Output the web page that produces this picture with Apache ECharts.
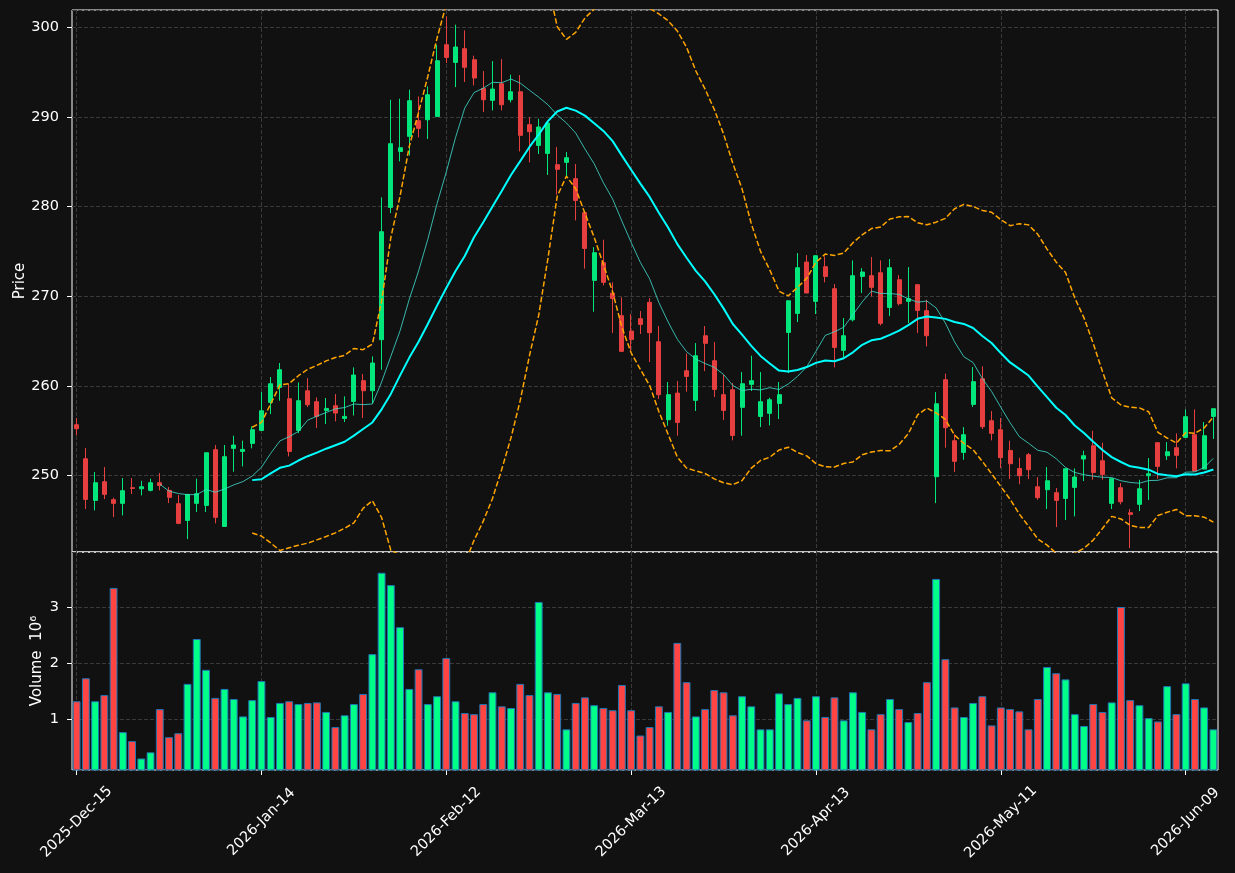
<!DOCTYPE html>
<html>
<head>
    <meta charset="utf-8">
    <title>Price / Volume</title>
    <script src="https://cdn.jsdelivr.net/npm/echarts/dist/echarts.min.js"></script>
    <style>
        html, body { margin: 0; padding: 0; background: #111111; }
        #chart1 { width: 1235px; height: 873px; }
    </style>
</head>
<body>
<div id="chart1"></div>
<script type="text/javascript">
    // daily bars (price), volume in millions
    var opens = [255.68, 251.89, 247.25, 249.33, 247.33, 246.92, 248.66, 248.55, 248.37, 249.22,
        248.37, 246.88, 245.02, 246.92, 246.69, 252.90, 244.35, 253.05, 252.71, 253.60,
        255.05, 258.17, 259.84, 258.58, 255.05, 259.47, 258.25, 257.28, 257.80, 256.39,
        258.28, 260.59, 259.47, 265.16, 279.90, 286.14, 287.82, 289.56, 289.67, 290.04,
        298.03, 296.06, 297.59, 296.36, 293.16, 291.83, 293.68, 291.90, 292.79, 289.12,
        286.81, 285.92, 284.66, 284.92, 283.10, 279.31, 271.77, 273.74, 270.36, 267.83,
        266.12, 267.50, 269.32, 264.93, 256.24, 259.21, 261.70, 258.40, 265.60, 262.82,
        259.03, 259.58, 257.62, 260.18, 256.61, 256.95, 258.06, 265.97, 268.09, 273.81,
        269.43, 273.29, 270.84, 263.97, 267.38, 272.21, 272.29, 272.62, 268.76, 271.84,
        269.43, 271.29, 268.39, 249.89, 260.70, 253.90, 252.60, 257.95, 260.81, 256.13,
        255.13, 252.82, 250.80, 252.34, 248.77, 248.44, 248.11, 247.47, 248.70, 251.86,
        253.34, 251.67, 246.92, 248.66, 245.88, 246.81, 250.00, 253.68, 252.23, 253.12,
        254.27, 254.57, 250.74, 256.61];
    var highs = [256.43, 253.08, 250.41, 250.97, 247.55, 249.74, 249.74, 249.44, 249.67, 250.30,
        248.74, 247.85, 247.92, 249.67, 252.56, 253.42, 253.42, 254.46, 253.90, 255.50,
        259.32, 261.00, 262.56, 260.25, 260.40, 260.88, 258.73, 258.66, 259.10, 258.84,
        262.07, 261.33, 263.30, 281.02, 291.90, 292.01, 293.02, 292.27, 293.39, 298.03,
        301.19, 300.26, 299.63, 296.81, 295.10, 296.21, 296.43, 294.69, 294.65, 289.97,
        289.78, 289.30, 286.63, 286.07, 284.73, 279.31, 275.48, 276.30, 271.55, 269.87,
        268.02, 268.35, 269.80, 266.68, 260.44, 260.55, 263.63, 264.78, 266.68, 264.90,
        261.26, 260.33, 261.55, 263.37, 261.55, 258.69, 260.44, 269.50, 274.81, 274.59,
        274.52, 274.44, 271.36, 267.57, 274.00, 273.14, 274.37, 274.00, 274.15, 272.36,
        273.25, 271.29, 269.61, 259.32, 261.37, 254.64, 255.42, 262.11, 262.18, 257.21,
        256.43, 253.90, 252.00, 252.53, 249.85, 250.97, 248.63, 250.78, 250.82, 252.79,
        255.01, 253.68, 249.67, 249.18, 246.29, 249.55, 251.97, 253.68, 253.75, 254.72,
        257.39, 257.39, 255.98, 257.47];
    var lows = [254.49, 246.29, 246.14, 247.40, 245.39, 245.58, 247.96, 247.81, 248.25, 248.37,
        246.95, 244.60, 242.94, 245.95, 245.95, 244.69, 244.35, 250.45, 251.04, 253.05,
        255.01, 256.87, 258.36, 252.15, 254.75, 257.65, 255.31, 255.76, 256.06, 255.98,
        256.72, 256.43, 258.10, 261.81, 279.27, 285.03, 285.70, 287.70, 287.52, 290.04,
        295.99, 293.31, 293.87, 293.50, 290.53, 290.71, 290.71, 291.60, 286.14, 284.92,
        285.85, 283.51, 281.32, 283.36, 278.45, 273.07, 268.28, 271.21, 265.90, 263.80,
        263.97, 265.80, 262.67, 258.54, 255.57, 254.46, 259.36, 257.21, 261.66, 258.77,
        256.20, 253.94, 254.46, 259.44, 255.42, 255.61, 256.32, 261.44, 267.12, 270.36,
        268.02, 271.55, 262.07, 263.22, 267.20, 270.36, 269.99, 266.75, 267.79, 268.98,
        267.01, 265.90, 264.41, 246.95, 253.12, 250.41, 251.78, 257.65, 255.20, 253.94,
        250.85, 249.63, 249.05, 249.63, 247.33, 246.29, 244.28, 245.06, 245.47, 249.41,
        249.55, 249.55, 246.29, 246.81, 241.94, 246.06, 247.29, 249.67, 251.75, 250.82,
        254.27, 250.52, 250.74, 254.09];
    var closes = [255.24, 247.36, 249.22, 247.92, 246.92, 248.33, 248.59, 248.77, 249.22, 248.92,
        247.59, 244.69, 247.92, 247.99, 252.56, 245.36, 252.12, 253.42, 252.93, 255.13,
        257.24, 260.25, 261.81, 252.71, 258.36, 257.91, 256.61, 257.50, 256.98, 256.61,
        261.22, 259.47, 262.56, 277.19, 287.00, 286.55, 291.79, 288.71, 292.46, 296.25,
        296.62, 297.77, 295.51, 294.32, 291.90, 293.09, 291.34, 292.79, 287.93, 288.34,
        288.86, 289.30, 284.14, 285.44, 280.68, 275.33, 274.85, 271.55, 269.76, 263.86,
        265.19, 266.86, 265.94, 259.03, 259.03, 255.94, 261.07, 263.37, 264.75, 259.62,
        257.28, 254.49, 260.25, 260.59, 258.25, 258.47, 259.03, 269.50, 273.18, 270.36,
        274.52, 272.21, 264.30, 265.60, 272.29, 272.70, 270.99, 266.98, 273.18, 269.17,
        269.73, 268.42, 265.60, 258.02, 255.35, 251.60, 254.57, 260.48, 255.46, 254.72,
        252.01, 251.34, 250.00, 250.67, 247.55, 249.44, 247.25, 250.78, 249.85, 252.23,
        250.37, 250.15, 249.67, 247.10, 245.69, 248.55, 250.22, 251.04, 252.67, 252.27,
        256.58, 250.52, 254.46, 257.47];
    var volumes = [1.32, 1.73, 1.32, 1.43, 3.34, 0.77, 0.61, 0.30, 0.41, 1.18,
        0.68, 0.75, 1.63, 2.43, 1.88, 1.38, 1.54, 1.36, 1.05, 1.34,
        1.68, 1.04, 1.29, 1.32, 1.27, 1.29, 1.30, 1.13, 0.86, 1.07,
        1.27, 1.45, 2.16, 3.61, 3.39, 2.64, 1.54, 1.89, 1.27, 1.41,
        2.09, 1.32, 1.11, 1.09, 1.27, 1.48, 1.23, 1.20, 1.63, 1.43,
        3.09, 1.48, 1.45, 0.82, 1.29, 1.39, 1.25, 1.20, 1.16, 1.61,
        1.16, 0.71, 0.86, 1.23, 1.13, 2.36, 1.66, 1.05, 1.18, 1.52,
        1.48, 1.07, 1.41, 1.23, 0.82, 0.82, 1.46, 1.27, 1.38, 0.98,
        1.41, 1.04, 1.39, 0.98, 1.48, 1.13, 0.82, 1.09, 1.36, 1.18,
        0.95, 1.11, 1.66, 3.50, 2.07, 1.21, 1.04, 1.29, 1.41, 0.89,
        1.21, 1.18, 1.14, 0.82, 1.36, 1.93, 1.82, 1.71, 1.09, 0.88,
        1.27, 1.13, 1.30, 3.00, 1.34, 1.25, 1.02, 0.96, 1.59, 1.09,
        1.64, 1.36, 1.21, 0.82];

    // trading calendar: weekdays from first to last bar, minus market holidays
    var firstDay = '2025-12-15';
    var lastDay = '2026-06-12';
    var holidays = ['2025-12-25', '2026-01-01', '2026-01-19', '2026-02-16', '2026-04-03', '2026-05-25'];
    var monthNames = ['Jan', 'Feb', 'Mar', 'Apr', 'May', 'Jun', 'Jul', 'Aug', 'Sep', 'Oct', 'Nov', 'Dec'];
    var tickEvery = 20;

    var dates = [];
    var d = new Date(firstDay + 'T00:00:00Z');
    var end = new Date(lastDay + 'T00:00:00Z');
    while (d <= end) {
        var iso = d.toISOString().slice(0, 10);
        var wd = d.getUTCDay();
        if (wd > 0 && wd < 6 && holidays.indexOf(iso) < 0) {
            dates.push(d.getUTCFullYear() + '-' + monthNames[d.getUTCMonth()] + '-' + iso.slice(8, 10));
        }
        d.setUTCDate(d.getUTCDate() + 1);
    }

    // moving averages / bollinger bands on the closes
    function sma(arr, n) {
        return arr.map(function (v, i) {
            if (i < n - 1) return null;
            var s = 0;
            for (var k = i - n + 1; k <= i; k++) s += arr[k];
            return +(s / n).toFixed(3);
        });
    }
    function boll(arr, n, k, sign) {
        var m = sma(arr, n);
        return arr.map(function (v, i) {
            if (m[i] === null) return null;
            var s = 0;
            for (var j = i - n + 1; j <= i; j++) s += (arr[j] - m[i]) * (arr[j] - m[i]);
            return +(m[i] + sign * k * Math.sqrt(s / n)).toFixed(3);
        });
    }

    var upCandle = '#02e77c', downCandle = '#e73f3f';
    var upVol = '#00ff88', downVol = '#ff4444';

    var candles = opens.map(function (o, i) { return [o, closes[i], lows[i], highs[i]]; });
    var volBars = volumes.map(function (v, i) {
        return { value: v, itemStyle: { color: closes[i] >= opens[i] ? upVol : downVol } };
    });

    function everyTick(idx) { return idx % tickEvery === 0; }
    var gridDash = { color: '#3a3a3a', type: [4, 2], width: 1 };
    var font = 'DejaVu Sans';

    var chart = echarts.init(document.getElementById('chart1'));
    chart.setOption({
        animation: false,
        backgroundColor: '#111111',
        textStyle: { fontFamily: font },
        grid: [
            { left: 72, top: 10, width: 1146, height: 542, show: true, borderColor: '#ffffff', borderWidth: 1, outerBoundsMode: 'none' },
            { left: 72, top: 552, width: 1146, height: 218, show: true, borderColor: '#ffffff', borderWidth: 1, outerBoundsMode: 'none' }
        ],
        xAxis: [
            {
                type: 'category', gridIndex: 0, data: dates, boundaryGap: true,
                axisLine: { show: false }, axisTick: { show: false }, axisLabel: { show: false },
                splitLine: { show: true, interval: everyTick, alignWithLabel: true, lineStyle: gridDash }
            },
            {
                type: 'category', gridIndex: 1, data: dates, boundaryGap: true,
                axisLine: { show: false },
                axisTick: { show: true, interval: everyTick, alignWithLabel: true, length: 5, lineStyle: { color: '#ffffff' } },
                axisLabel: {
                    interval: everyTick, rotate: 45, align: 'center', verticalAlign: 'middle', margin: 52,
                    color: '#ffffff', fontSize: 14.5, fontFamily: font
                },
                splitLine: { show: true, interval: everyTick, alignWithLabel: true, lineStyle: gridDash }
            }
        ],
        yAxis: [
            {
                type: 'value', gridIndex: 0, min: 241.5, max: 301.9, scale: true,
                name: 'Price', nameLocation: 'middle', nameGap: 44, nameMoveOverlap: false,
                nameTextStyle: { color: '#ffffff', fontSize: 15, fontFamily: font },
                axisLine: { show: false },
                axisTick: { show: true, length: 5, lineStyle: { color: '#ffffff' } },
                axisLabel: { color: '#ffffff', fontSize: 14.5, margin: 13, showMinLabel: false, showMaxLabel: false, fontFamily: font },
                splitLine: { show: true, lineStyle: gridDash }
            },
            {
                type: 'value', gridIndex: 1, min: 0.095, max: 3.98,
                name: 'Volume  10\u2076', nameLocation: 'middle', nameGap: 27, nameMoveOverlap: false,
                nameTextStyle: { color: '#ffffff', fontSize: 15, fontFamily: font },
                axisLine: { show: false },
                axisTick: { show: true, length: 5, lineStyle: { color: '#ffffff' } },
                axisLabel: { color: '#ffffff', fontSize: 14.5, margin: 13, showMinLabel: false, showMaxLabel: false, fontFamily: font },
                splitLine: { show: true, lineStyle: gridDash }
            }
        ],
        series: [
            {
                name: 'OHLC', type: 'candlestick', xAxisIndex: 0, yAxisIndex: 0, z: 2,
                data: candles, barWidth: 4.5,
                itemStyle: {
                    color: upCandle, color0: downCandle,
                    borderColor: upCandle, borderColor0: downCandle, borderWidth: 1
                }
            },
            {
                name: 'MA10', type: 'line', xAxisIndex: 0, yAxisIndex: 0, z: 3,
                data: sma(closes, 10), showSymbol: false, symbol: 'none',
                lineStyle: { color: '#40e0d0', width: 1, opacity: 0.8 }
            },
            {
                name: 'MA20', type: 'line', xAxisIndex: 0, yAxisIndex: 0, z: 3,
                data: sma(closes, 20), showSymbol: false, symbol: 'none',
                lineStyle: { color: '#00ffff', width: 2 }
            },
            {
                name: 'BB upper', type: 'line', xAxisIndex: 0, yAxisIndex: 0, z: 3, clip: true,
                data: boll(closes, 20, 2, 1), showSymbol: false, symbol: 'none',
                lineStyle: { color: '#ffa500', width: 1.5, type: [5.5, 2.4] }
            },
            {
                name: 'BB lower', type: 'line', xAxisIndex: 0, yAxisIndex: 0, z: 3, clip: true,
                data: boll(closes, 20, 2, -1), showSymbol: false, symbol: 'none',
                lineStyle: { color: '#ffa500', width: 1.5, type: [5.5, 2.4] }
            },
            {
                name: 'Volume', type: 'bar', xAxisIndex: 1, yAxisIndex: 1, clip: true,
                data: volBars, barWidth: '85%',
                itemStyle: { borderColor: '#1f77b4', borderWidth: 1 }
            }
        ]
    });
</script>
</body>
</html>
